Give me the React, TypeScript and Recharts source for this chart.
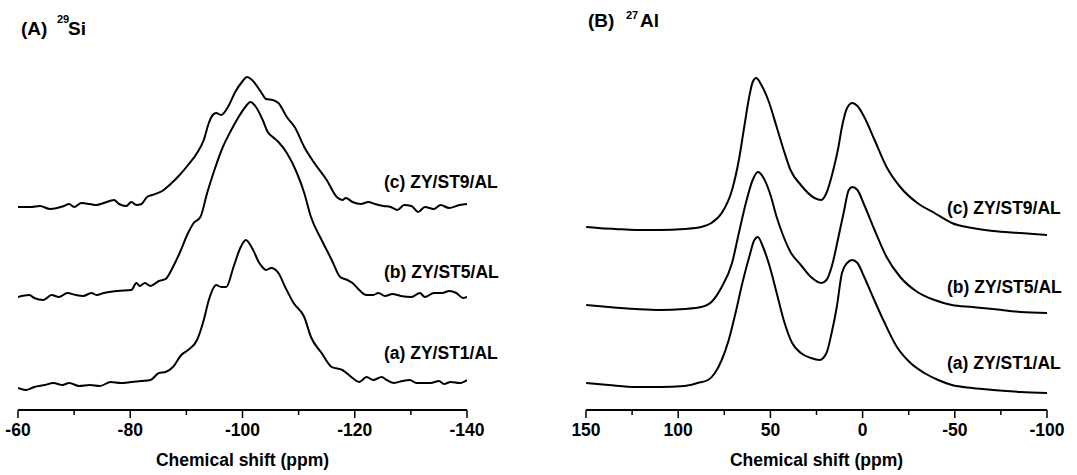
import React from 'react';
import { LineChart, Line, XAxis, YAxis, Label } from 'recharts';

const FONT = 'Arial, "Liberation Sans", Helvetica, sans-serif';

// (A) 29Si spectra: [ppm, stacked intensity]
const siST1: [number, number][] = [
  [-60, 22], [-61.4, 20], [-62.9, 23], [-64.8, 25], [-66.3, 27], [-67.9, 25], [-69.1, 27], [-70.9, 24],
  [-72.8, 25], [-74.6, 24], [-76.5, 28], [-78.3, 27], [-80.2, 28], [-82.0, 29], [-83.6, 30], [-85.1, 37],
  [-86.3, 38], [-87.6, 43], [-89.1, 55], [-90.3, 60], [-91.9, 70], [-93.1, 90], [-94.0, 110], [-95.3, 125],
  [-96.2, 123], [-97.1, 123], [-98.4, 143], [-99.6, 162], [-100.6, 170], [-101.7, 162], [-103.0, 147],
  [-104.2, 140], [-105.1, 142], [-106.4, 137], [-107.6, 123], [-109.1, 107], [-111.0, 93], [-112.2, 73],
  [-114.1, 57], [-115.9, 43], [-117.8, 40], [-119.6, 32], [-120.8, 28], [-122.1, 33], [-123.3, 30],
  [-124.8, 33], [-125.7, 30], [-127.0, 27], [-128.5, 29], [-129.8, 30], [-131.0, 27], [-132.2, 27],
  [-133.5, 27], [-135.0, 29], [-135.9, 26], [-137.1, 28], [-138.7, 27], [-140, 30],
];
const siST5: [number, number][] = [
  [-60, 113], [-62.0, 115], [-62.9, 112], [-64.5, 110], [-66.0, 115], [-67.3, 113], [-68.8, 117], [-70.3, 115],
  [-71.6, 114], [-73.1, 117], [-74.0, 115], [-75.3, 117], [-77.7, 119], [-80.2, 120], [-81.1, 127], [-81.7, 124],
  [-82.6, 127], [-83.6, 124], [-85.1, 129], [-86.3, 131], [-87.6, 143], [-88.8, 157], [-90.3, 177], [-91.3, 187],
  [-92.5, 193], [-93.7, 217], [-95.0, 240], [-96.5, 263], [-98.0, 280], [-99.3, 293], [-100.5, 303], [-101.4, 308],
  [-102.4, 303], [-103.6, 290], [-104.5, 278], [-105.4, 273], [-106.4, 268], [-107.9, 257], [-109.7, 237],
  [-111.0, 217], [-112.2, 193], [-114.1, 170], [-115.9, 150], [-117.4, 133], [-118.7, 130], [-119.6, 127],
  [-120.8, 120], [-122.1, 115], [-123.3, 115], [-124.2, 117], [-125.4, 114], [-126.7, 116], [-128.2, 114],
  [-130.1, 113], [-131.6, 117], [-132.5, 113], [-134.1, 117], [-135.6, 117], [-136.8, 119], [-138.1, 117],
  [-139.3, 112], [-140, 113],
];
const siST9: [number, number][] = [
  [-60, 203], [-62.3, 203], [-63.9, 204], [-65.7, 201], [-68.2, 204], [-69.1, 206], [-70, 203], [-71.3, 207],
  [-72.8, 206], [-74, 205], [-75.3, 207], [-77.1, 210], [-78, 206], [-79.3, 204], [-80.2, 208], [-81.1, 205],
  [-82, 206], [-83, 213], [-83.9, 215], [-85.7, 219], [-87, 225], [-88.8, 235], [-90.3, 245], [-91.9, 257],
  [-93.1, 270], [-94, 287], [-94.7, 295], [-95.3, 297], [-96.2, 295], [-97.4, 303], [-98.7, 318], [-99.9, 328],
  [-100.8, 333], [-101.7, 330], [-103.3, 318], [-104.2, 311], [-105.4, 310], [-106.4, 307], [-107.9, 293],
  [-109.4, 282], [-111, 263], [-112.8, 247], [-115, 230], [-116.8, 213], [-117.8, 210], [-118.4, 212],
  [-119.6, 208], [-121.1, 206], [-122.4, 208], [-123.6, 206], [-125.1, 204], [-126.4, 203], [-127.6, 200],
  [-128.8, 205], [-130.1, 204], [-131.3, 198], [-132.5, 203], [-134.1, 201], [-135.3, 205], [-136.8, 202],
  [-138.7, 205], [-140, 206],
];

// (B) 27Al spectra
const alST1: [number, number][] = [
  [149.9, 27], [137.8, 25], [122.9, 23], [109.8, 23], [96.8, 24], [89.4, 27], [83.8, 30], [80.1, 37], [76.4, 50],
  [72.6, 70], [68.9, 97], [65.2, 127], [61.5, 153], [58.7, 170], [56.8, 173], [54.0, 163], [50.3, 143], [46.6, 117],
  [42.8, 90], [38.2, 67], [33.5, 57], [28.0, 52], [23.3, 50], [19.6, 57], [16.8, 77], [14.0, 103], [11.2, 137],
  [8.4, 147], [5.6, 150], [2.8, 147], [-0.9, 133], [-5.6, 113], [-11.2, 90], [-18.6, 63], [-26.0, 47], [-33.5, 37],
  [-41.0, 30], [-48.4, 25], [-59.5, 22], [-70.7, 20], [-85.6, 18], [-100, 17],
];
const alST5: [number, number][] = [
  [149.9, 105], [137.8, 103], [122.9, 101], [109.8, 100], [96.8, 101], [87.5, 103], [82.0, 108], [76.4, 123],
  [70.8, 147], [67.1, 177], [63.3, 207], [59.6, 230], [56.8, 238], [54.0, 233], [50.3, 217], [46.6, 193],
  [42.8, 173], [39.1, 158], [33.5, 145], [28.0, 133], [22.4, 127], [19.6, 130], [16.8, 143], [13.1, 173],
  [10.3, 197], [7.5, 220], [5.6, 223], [2.8, 220], [-0.9, 205], [-6.5, 180], [-13.0, 153], [-20.4, 133],
  [-29.7, 118], [-39.0, 110], [-48.4, 105], [-59.5, 103], [-70.7, 101], [-85.6, 98], [-100, 97],
];
const alST9: [number, number][] = [
  [149.9, 183], [143.4, 182], [134.1, 181], [122.9, 180], [109.8, 180], [96.8, 181], [87.5, 183], [82.0, 187],
  [76.4, 197], [70.8, 220], [67.1, 250], [64.2, 283], [61.5, 313], [59.6, 328], [57.7, 332], [54.9, 325],
  [51.2, 310], [46.6, 283], [42.8, 260], [39.1, 240], [33.5, 225], [26.1, 212], [22.4, 210], [19.6, 217],
  [15.9, 240], [13.1, 263], [11.2, 283], [8.4, 302], [5.6, 307], [2.8, 304], [-0.9, 293], [-6.5, 270],
  [-13.0, 243], [-20.4, 223], [-29.7, 207], [-39.0, 197], [-48.4, 187], [-59.5, 182], [-70.7, 179],
  [-85.6, 177], [-100, 175],
];

const siMajor = [-60, -80, -100, -120, -140];
const siMinor = [-70, -90, -110, -130];
const alMajor = [150, 100, 50, 0, -50, -100];
const alMinor = [125, 75, 25, -25, -75];

const sampleLabels = ['(a) ZY/ST1/AL', '(b) ZY/ST5/AL', '(c) ZY/ST9/AL'];

const toRows = (pts: [number, number][]) => pts.map(([ppm, v]) => ({ ppm, v }));

const makeTick = (majors: number[]) => (props: any) => {
  const { x, y, payload } = props;
  const major = majors.includes(payload.value);
  return (
    <g>
      <line x1={x} x2={x} y1={y} y2={y + (major ? 8 : 5)} stroke="#000" strokeWidth={1.5} />
      {major && (
        <text x={x} y={y + 20} dy="0.36em" textAnchor="middle" fontFamily={FONT} fontWeight="bold" fontSize={17.5} fill="#000">
          {payload.value}
        </text>
      )}
    </g>
  );
};

function Panel({ series, domain, majors, minors, width, margin }: any) {
  return (
    <LineChart width={width} height={475} margin={margin}>
      <XAxis
        type="number"
        dataKey="ppm"
        domain={domain}
        reversed
        allowDataOverflow
        ticks={[...majors, ...minors].sort((a, b) => b - a)}
        interval={0}
        tickSize={0}
        tickMargin={0}
        tickLine={false}
        axisLine={{ stroke: '#000', strokeWidth: 2 }}
        tick={makeTick(majors)}
        height={60}
      >
        <Label
          value="Chemical shift (ppm)"
          position="insideBottom"
          offset={4}
          style={{ fontFamily: FONT, fontWeight: 'bold', fontSize: 17.5, fill: '#000' }}
        />
      </XAxis>
      <YAxis type="number" hide domain={[0, 340]} />
      {series.map((s: [number, number][], i: number) => (
        <Line
          key={i}
          data={toRows(s)}
          dataKey="v"
          type="monotone"
          stroke="#000"
          strokeWidth={2}
          dot={false}
          isAnimationActive={false}
        />
      ))}
    </LineChart>
  );
}

export default function App() {
  const txt = { fontFamily: FONT, fontWeight: 'bold' as const, fontSize: 17.5, fill: '#000' };
  return (
    <div style={{ position: 'absolute', left: 0, top: 0, width: 1077, height: 475, background: '#fff' }}>
      <div style={{ position: 'absolute', left: 0, top: 0 }}>
        <Panel
          series={[siST1, siST5, siST9]}
          domain={[-140, -60]}
          majors={siMajor}
          minors={siMinor}
          width={540}
          margin={{ top: 70, right: 73, bottom: 5, left: 18 }}
        />
      </div>
      <div style={{ position: 'absolute', left: 540, top: 0 }}>
        <Panel
          series={[alST1, alST5, alST9]}
          domain={[-100, 150]}
          majors={alMajor}
          minors={alMinor}
          width={537}
          margin={{ top: 70, right: 30, bottom: 5, left: 46 }}
        />
      </div>
      <svg width={1077} height={475} style={{ position: 'absolute', left: 0, top: 0, pointerEvents: 'none' }}>
        <text x={21} y={35} {...txt} fontSize={19}>
          (A)
          <tspan x={57} y={23} fontSize={11}>29</tspan>
          <tspan x={68} y={35} fontSize={19}>Si</tspan>
        </text>
        <text x={588} y={27} {...txt} fontSize={19}>
          (B)
          <tspan x={626} y={19} fontSize={11}>27</tspan>
          <tspan x={640} y={27} fontSize={19}>Al</tspan>
        </text>
        <text x={384} y={359} {...txt}>{sampleLabels[0]}</text>
        <text x={384} y={278} {...txt}>{sampleLabels[1]}</text>
        <text x={384} y={188} {...txt}>{sampleLabels[2]}</text>
        <text x={947} y={369} {...txt}>{sampleLabels[0]}</text>
        <text x={947} y={293} {...txt}>{sampleLabels[1]}</text>
        <text x={947} y={214} {...txt}>{sampleLabels[2]}</text>
      </svg>
    </div>
  );
}
